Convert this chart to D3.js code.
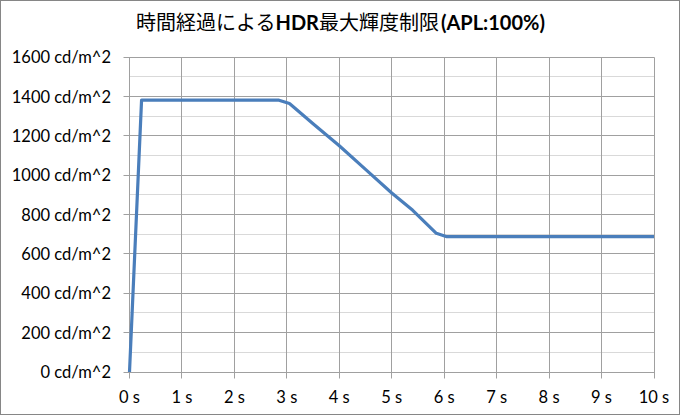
<!DOCTYPE html>
<html>
<head>
<meta charset="utf-8">
<script src="https://cdn.jsdelivr.net/npm/d3@7"></script>
<style>
  html, body { margin: 0; padding: 0; background: #fff; }
  svg { display: block; }
</style>
</head>
<body>
<svg id="chart" width="681" height="416"></svg>
<script>
// ---- data ----
const titleJa1 = "時間経過による";
const titleLatin1 = "HDR";
const titleJa2 = "最大輝度制限";
const titleLatin2 = "(APL:100%)";

const times = [0, 0.23, 2.85, 3.05, 3.5, 4.0, 4.5, 5.0, 5.4, 5.85, 6.05, 10];
const luminance = [0, 1382, 1382, 1365, 1262, 1150, 1030, 910, 822, 705, 688, 688];

const xTickValues = [0, 1, 2, 3, 4, 5, 6, 7, 8, 9, 10];
const xTickLabels = ["0 s", "1 s", "2 s", "3 s", "4 s", "5 s", "6 s", "7 s", "8 s", "9 s", "10 s"];
const yTickValues = [0, 200, 400, 600, 800, 1000, 1200, 1400, 1600];
const yTickLabels = ["0 cd/m^2", "200 cd/m^2", "400 cd/m^2", "600 cd/m^2", "800 cd/m^2",
                     "1000 cd/m^2", "1200 cd/m^2", "1400 cd/m^2", "1600 cd/m^2"];
const yMinorValues = [100, 300, 500, 700, 900, 1100, 1300, 1500];

// ---- layout ----
const W = 681, H = 416;
const plot = { left: 129.5, right: 654, top: 57.3, bottom: 372 };
const svg = d3.select("#chart");

// outer border
svg.append("rect")
  .attr("x", 0.5).attr("y", 0.5)
  .attr("width", W - 2).attr("height", H - 2)
  .attr("fill", "#fff").attr("stroke", "#868686").attr("stroke-width", 1);

const x = d3.scaleLinear().domain([0, 10]).range([plot.left, plot.right]);
const y = d3.scaleLinear().domain([0, 1600]).range([plot.bottom, plot.top]);
const crisp = v => Math.round(v - 0.5) + 0.5;

// minor horizontal gridlines
svg.append("g").selectAll("line").data(yMinorValues).join("line")
  .attr("x1", crisp(x(0))).attr("x2", crisp(x(10)))
  .attr("y1", d => crisp(y(d))).attr("y2", d => crisp(y(d)))
  .attr("stroke", "#d9d9d9").attr("stroke-width", 1);

// major horizontal gridlines (with left tick)
svg.append("g").selectAll("line").data(yTickValues).join("line")
  .attr("x1", crisp(x(0)) - 6).attr("x2", crisp(x(10)))
  .attr("y1", d => crisp(y(d))).attr("y2", d => crisp(y(d)))
  .attr("stroke", "#a0a0a0").attr("stroke-width", 1);

// vertical gridlines (with bottom tick)
svg.append("g").selectAll("line").data(xTickValues).join("line")
  .attr("x1", d => crisp(x(d))).attr("x2", d => crisp(x(d)))
  .attr("y1", crisp(y(1600))).attr("y2", crisp(y(0)) + 6)
  .attr("stroke", "#a0a0a0").attr("stroke-width", 1);

// y labels
svg.append("g").selectAll("text").data(yTickValues).join("text")
  .attr("x", 111)
  .attr("y", d => y(d))
  .attr("dy", "0.36em")
  .attr("text-anchor", "end")
  .attr("font-family", "Lato, 'Open Sans', sans-serif")
  .attr("font-size", 16.5)
  .attr("fill", "#000")
  .text((d, i) => yTickLabels[i]);

// x labels
svg.append("g").selectAll("text").data(xTickValues).join("text")
  .attr("x", d => x(d))
  .attr("y", 402.5)
  .attr("text-anchor", "middle")
  .attr("font-family", "Lato, 'Open Sans', sans-serif")
  .attr("font-size", 16.5)
  .attr("fill", "#000")
  .text((d, i) => xTickLabels[i]);

// line
const pts = times.map((t, i) => [t, luminance[i]]);
const line = d3.line().x(d => x(d[0])).y(d => y(d[1]));
svg.append("path")
  .datum(pts)
  .attr("d", line)
  .attr("fill", "none")
  .attr("stroke", "#4a7ebb")
  .attr("stroke-width", 3.2)
  .attr("stroke-linejoin", "round")
  .attr("stroke-linecap", "butt");

// title
const title = svg.append("text")
  .attr("x", 340.5).attr("y", 30)
  .attr("text-anchor", "middle")
  .attr("fill", "#000");
title.append("tspan")
  .attr("font-family", "'Noto Sans CJK JP', sans-serif")
  .attr("font-size", 20)
  .text(titleJa1);
title.append("tspan")
  .attr("font-family", "Lato, sans-serif")
  .attr("font-weight", "bold")
  .attr("font-size", 20)
  .text(titleLatin1);
title.append("tspan")
  .attr("font-family", "'Noto Sans CJK JP', sans-serif")
  .attr("font-size", 20)
  .text(titleJa2);
title.append("tspan")
  .attr("font-family", "Lato, sans-serif")
  .attr("font-weight", "bold")
  .attr("font-size", 20)
  .attr("dx", 2)
  .text(titleLatin2);
</script>
</body>
</html>
